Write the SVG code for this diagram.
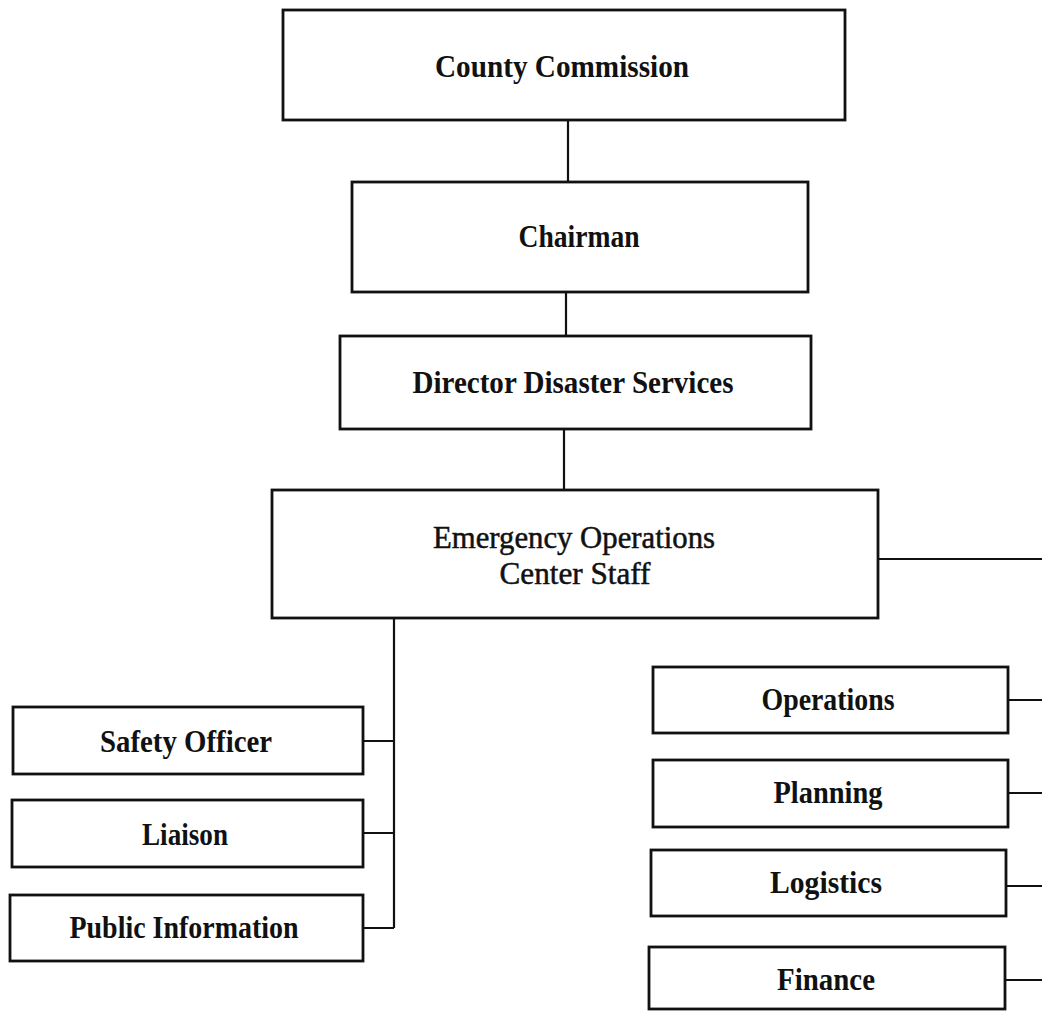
<svg xmlns="http://www.w3.org/2000/svg" width="1042" height="1011" viewBox="0 0 1042 1011">
<style>
.box{fill:#fff;stroke:#111;stroke-width:2.8}
.ln{fill:none;stroke:#111;stroke-width:2.2}
text{font-family:"Liberation Serif","Times New Roman",serif;fill:#111;text-anchor:middle}
.b{font-weight:bold;font-size:32.5px}
.s{font-weight:bold;font-size:31.5px}
.r{font-weight:normal;font-size:30.5px;stroke:#111;stroke-width:0.5}
</style>
<rect width="1042" height="1011" fill="#fff"/>
<g id="connectors">
<path class="ln" d="M568 120V182"/>
<path class="ln" d="M566 292V336"/>
<path class="ln" d="M564 429V490"/>
<path class="ln" d="M394 618V928M363 741H394M363 833H394M363 928H394"/>
<path class="ln" d="M878 559H1042"/>
<path class="ln" d="M1008 700H1042M1008 793H1042M1006 886H1042M1005 980H1042"/>
</g>
<g id="county-commission"><rect class="box" x="283" y="10" width="562" height="110"/><text class="b" x="562" y="77" textLength="254" lengthAdjust="spacingAndGlyphs">County Commission</text></g>
<g id="chairman"><rect class="box" x="352" y="182" width="456" height="110"/><text class="b" x="579" y="247" textLength="121" lengthAdjust="spacingAndGlyphs">Chairman</text></g>
<g id="director"><rect class="box" x="340" y="336" width="471" height="93"/><text class="b" x="573" y="393" textLength="321" lengthAdjust="spacingAndGlyphs">Director Disaster Services</text></g>
<g id="eoc-staff"><rect class="box" x="272" y="490" width="606" height="128"/><text class="r" x="574" y="548" textLength="282" lengthAdjust="spacingAndGlyphs">Emergency Operations</text><text class="r" x="575" y="584" textLength="151" lengthAdjust="spacingAndGlyphs">Center Staff</text></g>
<g id="safety-officer"><rect class="box" x="13" y="707" width="350" height="67"/><text class="s" x="186" y="752" textLength="172" lengthAdjust="spacingAndGlyphs">Safety Officer</text></g>
<g id="liaison"><rect class="box" x="12" y="800" width="351" height="67"/><text class="s" x="185" y="845" textLength="86" lengthAdjust="spacingAndGlyphs">Liaison</text></g>
<g id="public-information"><rect class="box" x="10" y="895" width="353" height="66"/><text class="s" x="184" y="938" textLength="229" lengthAdjust="spacingAndGlyphs">Public Information</text></g>
<g id="operations"><rect class="box" x="653" y="667" width="355" height="66"/><text class="s" x="828" y="710" textLength="133" lengthAdjust="spacingAndGlyphs">Operations</text></g>
<g id="planning"><rect class="box" x="653" y="760" width="355" height="67"/><text class="s" x="828" y="803" textLength="109" lengthAdjust="spacingAndGlyphs">Planning</text></g>
<g id="logistics"><rect class="box" x="651" y="850" width="355" height="66"/><text class="s" x="826" y="893" textLength="112" lengthAdjust="spacingAndGlyphs">Logistics</text></g>
<g id="finance"><rect class="box" x="649" y="947" width="356" height="62"/><text class="s" x="826" y="990" textLength="98" lengthAdjust="spacingAndGlyphs">Finance</text></g>
</svg>
